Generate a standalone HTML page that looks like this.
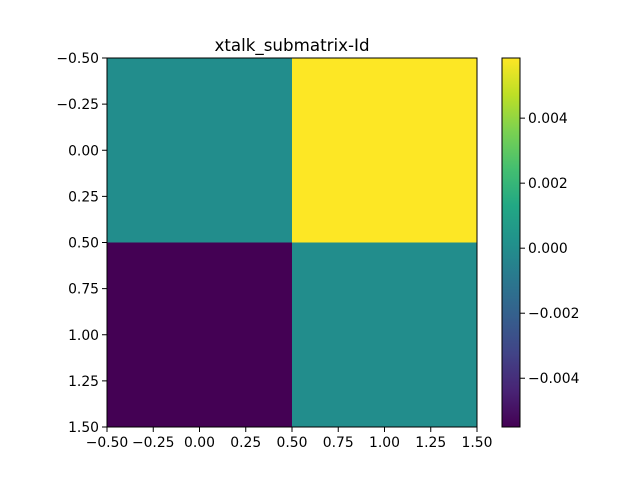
<!DOCTYPE html>
<html><head><meta charset="utf-8"><style>body{margin:0;background:#fff}svg{display:block;font-family:"DejaVu Sans","Liberation Sans",sans-serif}</style></head>
<body>
<svg id="chart" width="640" height="480" viewBox="0 0 640 480">
<defs><linearGradient id="vir" x1="0" y1="1" x2="0" y2="0">
<stop offset="0" stop-color="#440154"/><stop offset="0.1" stop-color="#482475"/><stop offset="0.2" stop-color="#414487"/><stop offset="0.3" stop-color="#355f8d"/><stop offset="0.4" stop-color="#2a788e"/><stop offset="0.5" stop-color="#21918c"/><stop offset="0.6" stop-color="#22a884"/><stop offset="0.7" stop-color="#44bf70"/><stop offset="0.8" stop-color="#7ad151"/><stop offset="0.9" stop-color="#bddf26"/><stop offset="1" stop-color="#fde725"/></linearGradient></defs>
<text x="292" y="51" text-anchor="middle" font-size="16.7">xtalk_submatrix-Id</text>
<g id="cells"></g><g id="axes"></g>
</svg>
<script>
const rows = [0, 1];
const cols = [0, 1];
const values = [[0.0, 0.00585], [-0.0055, 0.0]];
const xTicks = [-0.5, -0.25, 0, 0.25, 0.5, 0.75, 1, 1.25, 1.5];
const yTicks = [-0.5, -0.25, 0, 0.25, 0.5, 0.75, 1, 1.25, 1.5];
const cbTicks = [-0.004, -0.002, 0, 0.002, 0.004];
const NS='http://www.w3.org/2000/svg';
const L=107,R=477,T=58,B=427, CL=502, CR=520;
const FS=13.9;
const flat=values.flat(), vmin=Math.min(...flat), vmax=Math.max(...flat);
const sx=v=>L+(v+0.5)/2*(R-L), sy=v=>T+(v+0.5)/2*(B-T);
const cy=v=>B-(v-vmin)/(vmax-vmin)*(B-T);
const vir=['#440154','#482475','#414487','#355f8d','#2a788e','#21918c','#22a884','#44bf70','#7ad151','#bddf26','#fde725'];
function hx(c){return [1,3,5].map(i=>parseInt(c.substr(i,2),16));}
function color(v){let t=(v-vmin)/(vmax-vmin)*10;let i=Math.min(9,Math.floor(t)),f=t-i;let a=hx(vir[i]),b=hx(vir[i+1]);return 'rgb('+a.map((x,k)=>Math.round(x+(b[k]-x)*f)).join(',')+')';}
function el(tag,attrs,parent){const e=document.createElementNS(NS,tag);for(const k in attrs)e.setAttribute(k,attrs[k]);parent.appendChild(e);return e;}
const cg=document.getElementById('cells'), ag=document.getElementById('axes');
rows.forEach(r=>cols.forEach(c=>{
 const e=el('rect',{x:sx(c-0.5),y:sy(r-0.5),width:sx(c+0.5)-sx(c-0.5),height:sy(r+0.5)-sy(r-0.5),fill:color(values[r][c])},cg);
 
 
}));
const fr=el('rect',{x:L,y:T,width:R-L,height:B-T,fill:'none',stroke:'#000','stroke-width':1},ag);


const fmt=v=>(v<0?'\u2212':'')+Math.abs(v).toFixed(2);
xTicks.forEach(v=>{const x=sx(v);el('line',{x1:x,x2:x,y1:B,y2:B+5,stroke:'#000'},ag);
 const t=el('text',{x:x,y:B+20,'text-anchor':'middle','font-size':FS},ag);t.textContent=fmt(v);
 
 });
yTicks.forEach(v=>{const y=sy(v);el('line',{x1:L-5,x2:L,y1:y,y2:y,stroke:'#000'},ag);
 const t=el('text',{x:L-8,y:y+5,'text-anchor':'end','font-size':FS},ag);t.textContent=fmt(v);
 
 });
const cb=el('rect',{x:CL,y:T,width:CR-CL,height:B-T,fill:'url(#vir)',stroke:'#000','stroke-width':1},ag);


cbTicks.forEach(v=>{const y=cy(v);el('line',{x1:CR,x2:CR+5,y1:y,y2:y,stroke:'#000'},ag);
 const t=el('text',{x:CR+8,y:y+5,'font-size':FS},ag);t.textContent=(v<0?'\u2212':'')+Math.abs(v).toFixed(3);
 
 });
</script>
</body></html>
